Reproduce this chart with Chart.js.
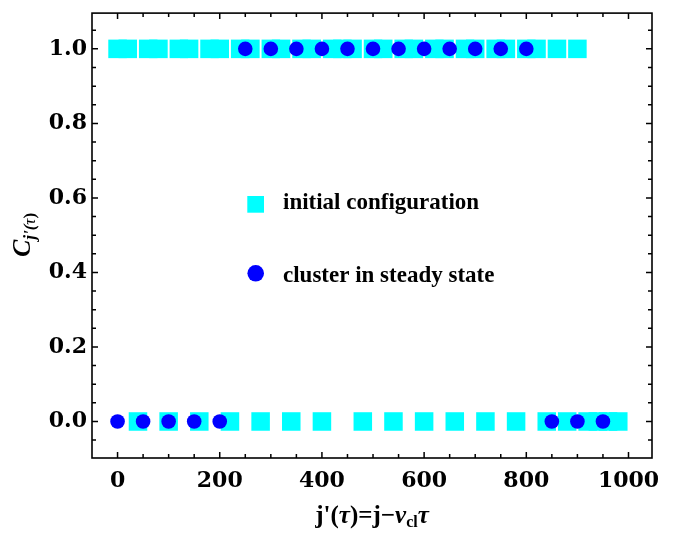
<!DOCTYPE html>
<html>
<head>
<meta charset="utf-8">
<script src="https://cdn.jsdelivr.net/npm/chart.js@4/dist/chart.umd.min.js"></script>
<style>
  body { margin: 0; background: #fff; }
  #wrap { width: 684px; height: 533px; }
</style>
</head>
<body>
<div id="wrap"><canvas id="chart"></canvas></div>
<script>
// initial configuration, sampled every 20 sites
const initSites = [0, 20, 40, 60, 80, 100, 120, 140, 160, 180, 200, 220, 240, 260, 280, 300, 320, 340, 360, 380,
  400, 420, 440, 460, 480, 500, 520, 540, 560, 580, 600, 620, 640, 660, 680, 700, 720, 740, 760, 780,
  800, 820, 840, 860, 880, 900, 920, 940, 960, 980];
const initValues = [1, 1, 0, 1, 1, 0, 1, 1, 0, 1, 1, 0, 1, 1, 0, 1, 1, 0, 1, 1,
  0, 1, 1, 1, 0, 1, 1, 0, 1, 1, 0, 1, 1, 0, 1, 1, 0, 1, 1, 0,
  1, 1, 0, 1, 0, 1, 0, 0, 0, 0];

// cluster in steady state, sampled every 50 sites
const clusterSites = [0, 50, 100, 150, 200, 250, 300, 350, 400, 450, 500, 550, 600, 650, 700, 750, 800, 850, 900, 950];
const clusterValues = [0, 0, 0, 0, 0, 1, 1, 1, 1, 1, 1, 1, 1, 1, 1, 1, 1, 0, 0, 0];

const seriesNames = ["initial configuration", "cluster in steady state"];
const xTicks = [0, 200, 400, 600, 800, 1000];
const yTicks = [0, 0.2, 0.4, 0.6, 0.8, 1.0];

const SERIF = "'Liberation Serif', 'Times New Roman', serif";
const TICKFONT = { family: "'DejaVu Serif', serif", weight: "bold", size: 22 };

function drawRuns(ctx, segs, x, y) {
  for (const s of segs) {
    ctx.font = s.font;
    ctx.fillText(s.text, x, y + (s.dy || 0));
    x += ctx.measureText(s.text).width;
  }
}
function runWidth(ctx, segs) {
  let w = 0;
  for (const s of segs) { ctx.font = s.font; w += ctx.measureText(s.text).width; }
  return w;
}

const framePlugin = {
  id: "frame",
  afterDraw(chart) {
    const { ctx, chartArea: a, scales } = chart;
    const x = scales.x, y = scales.y;
    ctx.save();
    ctx.strokeStyle = "#000";
    ctx.lineWidth = 1.6;
    ctx.strokeRect(a.left, a.top, a.right - a.left, a.bottom - a.top);

    // inward frame ticks on all four sides
    ctx.lineWidth = 1.5;
    ctx.beginPath();
    for (let v = 0; v <= 1000; v += 50) {
      const px = x.getPixelForValue(v);
      const len = v % 200 === 0 ? 6 : 4;
      ctx.moveTo(px, a.bottom); ctx.lineTo(px, a.bottom - len);
      ctx.moveTo(px, a.top); ctx.lineTo(px, a.top + len);
    }
    for (let i = -1; i <= 21; i++) {
      const py = y.getPixelForValue(i * 0.05);
      const len = i % 4 === 0 ? 6 : 4;
      ctx.moveTo(a.left, py); ctx.lineTo(a.left + len, py);
      ctx.moveTo(a.right, py); ctx.lineTo(a.right - len, py);
    }
    ctx.stroke();

    // legend inside the plot
    ctx.fillStyle = "#00ffff";
    ctx.fillRect(247.3, 196, 16.7, 16.7);
    ctx.fillStyle = "#0000ff";
    ctx.beginPath();
    ctx.arc(255.7, 273.3, 8.3, 0, Math.PI * 2);
    ctx.fill();
    ctx.fillStyle = "#000";
    ctx.textAlign = "left";
    ctx.textBaseline = "alphabetic";
    ctx.font = "bold 23px " + SERIF;
    ctx.fillText(seriesNames[0], 283, 208.5);
    ctx.fillText(seriesNames[1], 283, 282);

    // x axis title: j'(τ)=j−v_cl τ
    const up = "bold 25px " + SERIF, it = "italic bold 25px " + SERIF, sub = "bold 16px " + SERIF;
    const xs = [
      { text: "j'(", font: up }, { text: "τ", font: it }, { text: ")=j\u2212", font: up },
      { text: "v", font: it }, { text: "cl", font: sub, dy: 4 }, { text: "τ", font: it }
    ];
    const xw = runWidth(ctx, xs);
    drawRuns(ctx, xs, (a.left + a.right) / 2 - xw / 2, 523);

    // y axis title: C_{j'(τ)}
    ctx.save();
    ctx.translate(30, 235);
    ctx.rotate(-Math.PI / 2);
    const ys = [
      { text: "C", font: "italic bold 26px " + SERIF },
      { text: "j'(", font: "italic bold 17px " + SERIF, dy: 5 },
      { text: "τ", font: "italic 17px " + SERIF, dy: 5 },
      { text: ")", font: "bold 17px " + SERIF, dy: 5 }
    ];
    const yw = runWidth(ctx, ys);
    drawRuns(ctx, ys, -yw / 2, 0);
    ctx.restore();

    ctx.restore();
  }
};

new Chart(document.getElementById("chart"), {
  type: "scatter",
  data: {
    datasets: [
      {
        label: seriesNames[0],
        data: initSites.map((s, i) => ({ x: s, y: initValues[i] })),
        pointStyle: "rect",
        pointRadius: 13.1,
        pointHoverRadius: 13.1,
        backgroundColor: "#00ffff",
        borderWidth: 0,
        order: 1
      },
      {
        label: seriesNames[1],
        data: clusterSites.map((s, i) => ({ x: s, y: clusterValues[i] })),
        pointStyle: "circle",
        pointRadius: 7.3,
        pointHoverRadius: 7.3,
        backgroundColor: "#0000ff",
        borderWidth: 0,
        order: 0
      }
    ]
  },
  options: {
    responsive: true,
    maintainAspectRatio: false,
    animation: false,
    layout: { padding: { top: 9, right: 32, left: 0, bottom: 0 } },
    plugins: { legend: { display: false }, tooltip: { enabled: false } },
    scales: {
      x: {
        type: "linear",
        min: -50,
        max: 1046,
        grid: { display: false, drawTicks: false },
        border: { display: false },
        afterBuildTicks: (s) => { s.ticks = xTicks.map((v) => ({ value: v })); },
        afterFit: (s) => { s.height = 75; s.paddingLeft = 0; s.paddingRight = 0; },
        ticks: { font: TICKFONT, color: "#000", padding: 10, maxRotation: 0, autoSkip: false,
                 callback: (v) => String(v) }
      },
      y: {
        type: "linear",
        min: -0.098,
        max: 1.096,
        grid: { display: false, drawTicks: false },
        border: { display: false },
        afterBuildTicks: (s) => { s.ticks = yTicks.map((v) => ({ value: v })); },
        afterFit: (s) => { s.width = 92; s.paddingTop = 0; s.paddingBottom = 0; },
        ticks: { font: TICKFONT, color: "#000", padding: 5, callback: (v) => Number(v).toFixed(1) }
      }
    }
  },
  plugins: [framePlugin]
});
</script>
</body>
</html>
